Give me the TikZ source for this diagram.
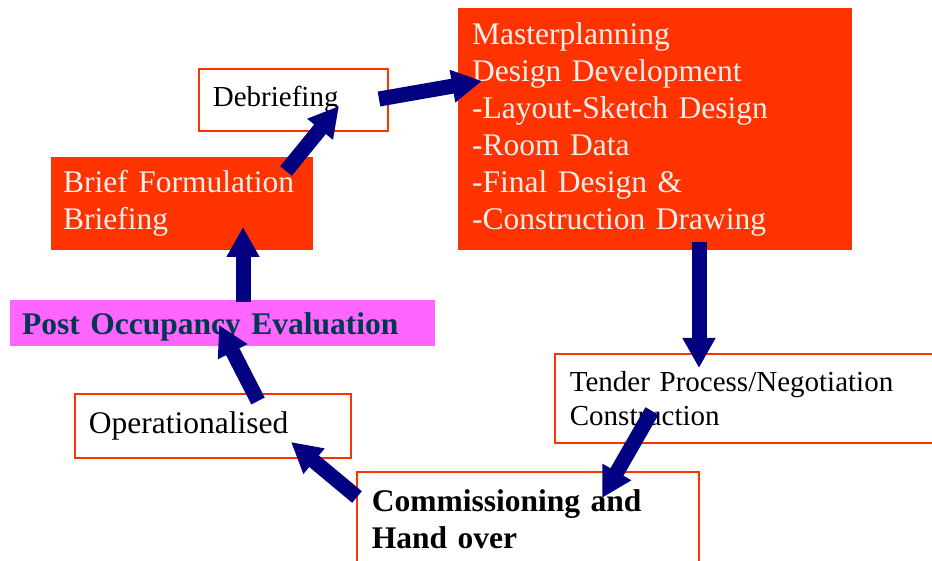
\documentclass[tikz,border=0pt]{standalone}
\usepackage{fontspec}
\setmainfont{Liberation Serif}
\usetikzlibrary{arrows.meta}
\definecolor{redorange}{HTML}{FF3300}
\definecolor{offwhite}{HTML}{F2EEEA}
\definecolor{pinkfill}{HTML}{FF66FF}
\definecolor{poetext}{HTML}{00384F}
\definecolor{navyblue}{HTML}{000080}

\begin{document}
\begin{tikzpicture}[
x = 1pt, y = -1pt,
box/.style={rectangle, anchor=north west, inner xsep = 14pt, inner ysep = 0pt, align=left},
filled/.style={box, fill=redorange, text=offwhite, font=\fontsize{31.5}{37}\selectfont},
plain/.style={box, draw=redorange, line width=1.8pt, fill=white, font=\fontsize{29}{34}\selectfont},
pink/.style={box, fill=pinkfill, text=poetext, text depth=0pt, font=\bfseries\fontsize{31.5}{37}\selectfont},
flow/.style={-{Triangle[width=31pt,length=30pt]}, line width=15pt, navyblue}]

\useasboundingbox (0,0) rectangle (932,561);

\node[plain, text width=161pt, minimum height=62pt] (1) at (198,68) {Debriefing};
\node[filled, text width=366pt, minimum height=242pt] (2) at (458,8) {Masterplanning\\Design Development\\-Layout-Sketch Design\\-Room Data\\-Final Design \&\\-Construction Drawing};
\node[plain, inner xsep=15pt, text width=390pt, minimum height=89pt] (3) at (554,353) {Tender Process/Negotiation\\Construction};
\node[plain, inner xsep=15pt, text width=312pt, minimum height=94pt, font=\bfseries\fontsize{31.5}{37}\selectfont] (4) at (356,471) {Commissioning and\\Hand over};
\node[plain, text width=248pt, minimum height=64pt, font=\fontsize{31.5}{37}\selectfont] (5) at (74,393) {Operationalised};
\node[pink, inner xsep=12pt, text width=401pt, minimum height=46pt] (6) at (10,300) {Post Occupancy Evaluation};
\node[filled, inner xsep=12pt, text width=238pt, minimum height=93pt] (7) at (51,157) {Brief Formulation\\Briefing};

% arrow ends
\coordinate (6a) at (243,302);  \coordinate (7b) at (243,227);
\coordinate (7a) at (286,171);  \coordinate (1b) at (339,106);
\coordinate (1a) at (379,99);   \coordinate (2b) at (482,81);
\coordinate (2a) at (699,242);  \coordinate (3b) at (699,368);
\coordinate (3a) at (652,411);  \coordinate (4b) at (602,498);
\coordinate (4a) at (357,497);  \coordinate (5b) at (291,442);
\coordinate (5a) at (258,401);  \coordinate (6b) at (219,325);

\draw[flow](6a)--(7b);
\draw[flow](7a)--(1b);
\draw[flow](1a)--(2b);
\draw[flow](2a)--(3b);
\draw[flow](3a)--(4b);
\draw[flow](4a)--(5b);
\draw[flow](5a)--(6b);
\end{tikzpicture}
\end{document}
